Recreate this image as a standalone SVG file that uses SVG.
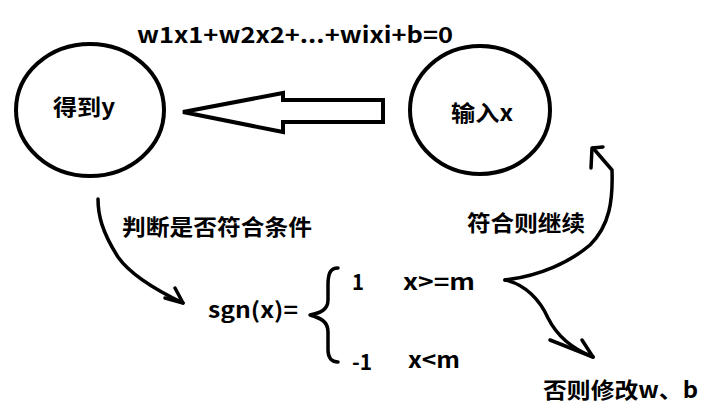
<svg xmlns="http://www.w3.org/2000/svg" width="724" height="420" viewBox="0 0 724 420">
<style>
.t{font-family:"Noto Sans CJK SC","Noto Sans",sans-serif;font-weight:bold;font-size:22px;fill:#000}
.node{fill:none;stroke:#000;stroke-width:4}
.c{fill:none;stroke:#000;stroke-width:3.5;stroke-linecap:round;stroke-linejoin:round}
</style>
<rect width="724" height="420" fill="#fff"/>
<g id="node-get-y">
<ellipse class="node" cx="90" cy="110" rx="74" ry="66"/>
<text class="t" x="53" y="115" textLength="62" lengthAdjust="spacingAndGlyphs">得到y</text>
</g>
<g id="node-input-x">
<ellipse class="node" cx="480" cy="110" rx="70" ry="64"/>
<text class="t" x="451" y="121" textLength="62" lengthAdjust="spacingAndGlyphs">输入x</text>
</g>
<g id="node-formula">
<text class="t" x="137" y="43" textLength="316" lengthAdjust="spacingAndGlyphs">w1x1+w2x2+...+wixi+b=0</text>
</g>
<g id="node-sgn">
<text class="t" x="208" y="318" textLength="90" lengthAdjust="spacingAndGlyphs">sgn(x)=</text>
<path class="c" d="M338,268 C330,268 328,274 328,285 L328,300 C328,310 320,313 310,315 C320,318 328,321 328,332 L328,350 C328,358 332,362 338,362"/>
<text class="t" x="352" y="290" textLength="12" lengthAdjust="spacingAndGlyphs">1</text>
<text class="t" x="403" y="290" textLength="72" lengthAdjust="spacingAndGlyphs">x&gt;=m</text>
<text class="t" x="352" y="370" textLength="20" lengthAdjust="spacingAndGlyphs">-1</text>
<text class="t" x="408" y="368" textLength="52" lengthAdjust="spacingAndGlyphs">x&lt;m</text>
</g>
<g id="node-modify">
<text class="t" x="543" y="398" textLength="155" lengthAdjust="spacingAndGlyphs">否则修改w、b</text>
</g>
<g id="connectors">
<polygon class="node" points="183,112 283,93 283,100 383,100 383,122 283,122 283,132"/>
<path class="c" d="M98,199 C98,215 102,232 118,257 C132,277 160,292 183,303"/>
<path class="c" d="M165,298 L183,303 L175,288"/>
<text class="t" x="122" y="235" textLength="190" lengthAdjust="spacingAndGlyphs">判断是否符合条件</text>
<path class="c" d="M505,280 C540,276 570,262 590,245 C610,225 613,200 612,170 L593,148"/>
<path class="c" d="M591,168 L592,148 L603,147"/>
<text class="t" x="467" y="231" textLength="118" lengthAdjust="spacingAndGlyphs">符合则继续</text>
<path class="c" d="M505,280 C525,284 540,300 548,318 C556,334 570,348 593,357"/>
<path class="c" d="M550,340 L593,357 L582,340"/>
</g>
</svg>
